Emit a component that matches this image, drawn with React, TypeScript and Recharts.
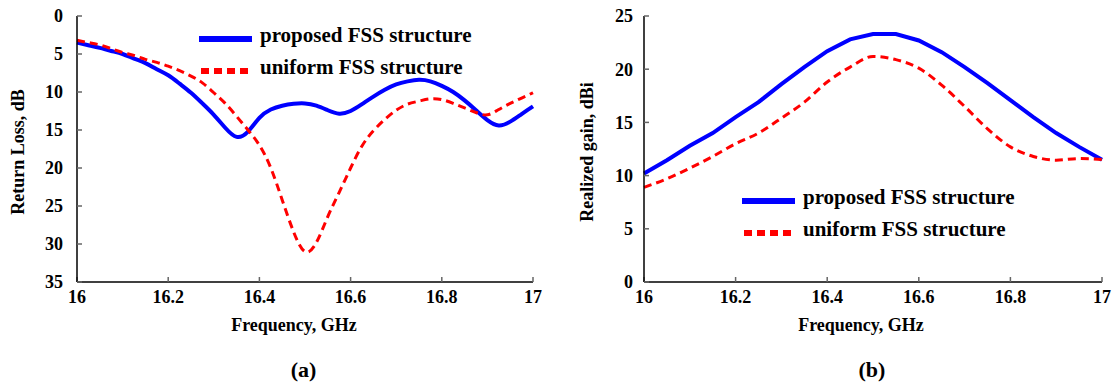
import React from "react";
import { Label, Legend, Line, LineChart, XAxis, YAxis } from "recharts";

// frequency grid, GHz
const freqRL = [
  16, 16.025, 16.05, 16.075, 16.1, 16.125, 16.15, 16.175, 16.2, 16.225, 16.25,
  16.275, 16.3, 16.325, 16.35, 16.375, 16.4, 16.425, 16.45, 16.475, 16.5,
  16.525, 16.55, 16.575, 16.6, 16.625, 16.65, 16.675, 16.7, 16.725, 16.75,
  16.775, 16.8, 16.825, 16.85, 16.875, 16.9, 16.925, 16.95, 16.975, 17,
];
// return loss, dB
const rlProposed = [
  3.5, 3.85, 4.2, 4.6, 5.0, 5.6, 6.2, 7.0, 7.8, 8.9, 10.1,
  11.5, 13.0, 14.7, 15.9, 15.2, 13.4, 12.3, 11.8, 11.55, 11.5,
  11.8, 12.4, 12.85, 12.5, 11.6, 10.6, 9.7, 9.0, 8.6, 8.4,
  8.6, 9.2, 10.0, 11.1, 12.4, 13.7, 14.4, 13.9, 12.9, 11.9,
];
const rlUniform = [
  3.2, 3.5, 3.8, 4.3, 4.8, 5.2, 5.7, 6.1, 6.6, 7.2, 7.9,
  8.8, 10.1, 11.5, 13.2, 15.0, 17.0, 20.0, 24.2, 28.4, 31.0,
  29.8, 26.4, 23.2, 20.0, 17.1, 15.1, 13.6, 12.4, 11.6, 11.2,
  10.9, 11.0, 11.5, 12.1, 12.7, 13.0, 12.3, 11.5, 10.8, 10.1,
];

const freqGain = [
  16, 16.05, 16.1, 16.15, 16.2, 16.25, 16.3, 16.35, 16.4, 16.45, 16.5,
  16.55, 16.6, 16.65, 16.7, 16.75, 16.8, 16.85, 16.9, 16.95, 17,
];
// realized gain, dBi
const gainProposed = [
  10.2, 11.45, 12.8, 14.0, 15.5, 16.9, 18.6, 20.2, 21.7, 22.8, 23.3,
  23.3, 22.7, 21.6, 20.2, 18.7, 17.1, 15.5, 14.0, 12.7, 11.5,
];
const gainUniform = [
  8.9, 9.7, 10.7, 11.8, 13.0, 14.0, 15.4, 16.9, 18.8, 20.2, 21.2,
  20.9, 20.1, 18.5, 16.5, 14.4, 12.7, 11.8, 11.45, 11.6, 11.5,
];

const freqTicks = [16, 16.2, 16.4, 16.6, 16.8, 17];
const rlTicks = [0, 5, 10, 15, 20, 25, 30, 35];
const gainTicks = [0, 5, 10, 15, 20, 25];
const seriesNames = ["proposed FSS structure", "uniform FSS structure"];

const FONT = '"Liberation Serif", "Times New Roman", serif';
const BLUE = "#0000ff";
const RED = "#ff0000";

const rlData = freqRL.map((f, i) => ({ f, proposed: rlProposed[i], uniform: rlUniform[i] }));
const gainData = freqGain.map((f, i) => ({ f, proposed: gainProposed[i], uniform: gainUniform[i] }));

const tickStyle = { fill: "#000", fontSize: 18, fontWeight: "bold", fontFamily: FONT };
const axisLine = { stroke: "#000", strokeWidth: 1.5 };
const tickLine = { stroke: "#666", strokeWidth: 1.5 };

type Curve = "monotone" | "linear" | "natural";

function LegendBox() {
  return (
    <div style={{ fontFamily: FONT, fontWeight: "bold", fontSize: 21, color: "#000" }}>
      {seriesNames.map((name, i) => (
        <div key={name} style={{ display: "flex", alignItems: "center", height: 32, whiteSpace: "nowrap" }}>
          <svg width={53} height={8} style={{ marginTop: 8, marginRight: 8 }}>
            <line
              x1={i ? 2 : 0}
              x2={i ? 49 : 53}
              y1={4}
              y2={4}
              stroke={i ? RED : BLUE}
              strokeWidth={6}
              strokeDasharray={i ? "8 5" : undefined}
            />
          </svg>
          <span>{name}</span>
        </div>
      ))}
    </div>
  );
}

interface PanelProps {
  data: { f: number; proposed: number; uniform: number }[];
  yDomain: [number, number];
  yTicks: number[];
  reversed: boolean;
  yLabel: string;
  yWidth: number;
  yTickMargin: number;
  yLabelX: number;
  marginRight: number;
  legendLeft: number;
  legendTop: number;
  xLabelDx: number;
  blueType: Curve;
  redType: Curve;
}

function Panel(p: PanelProps) {
  return (
    <LineChart
      width={560}
      height={340}
      data={p.data}
      margin={{ top: 16, right: p.marginRight, bottom: 0, left: 0 }}
    >
      <XAxis
        type="number"
        dataKey="f"
        domain={[16, 17]}
        ticks={freqTicks}
        interval={0}
        height={58}
        tickSize={-5}
        tickMargin={13}
        axisLine={axisLine}
        tickLine={tickLine}
        tick={tickStyle}
      >
        <Label
          content={({ viewBox }: any) => (
            <text
              x={viewBox.x + viewBox.width / 2 + p.xLabelDx}
              y={viewBox.y + 49}
              textAnchor="middle"
              fontFamily={FONT}
              fontWeight="bold"
              fontSize={18}
              fill="#000"
            >
              Frequency, GHz
            </text>
          )}
        />
      </XAxis>
      <XAxis
        xAxisId="top"
        orientation="top"
        type="number"
        domain={[16, 17]}
        height={0}
        tick={false}
        tickLine={false}
        axisLine={axisLine}
      />
      <YAxis
        type="number"
        domain={p.yDomain}
        ticks={p.yTicks}
        reversed={p.reversed}
        interval={0}
        width={p.yWidth}
        tickSize={-5}
        tickMargin={p.yTickMargin}
        axisLine={axisLine}
        tickLine={tickLine}
        tick={tickStyle}
      >
        <Label
          content={({ viewBox }: any) => {
            const cx = p.yLabelX;
            const cy = viewBox.y + viewBox.height / 2 + 3;
            return (
              <text
                x={cx}
                y={cy}
                dy="0.35em"
                transform={`rotate(-90, ${cx}, ${cy})`}
                textAnchor="middle"
                fontFamily={FONT}
                fontWeight="bold"
                fontSize={18}
                fill="#000"
              >
                {p.yLabel}
              </text>
            );
          }}
        />
      </YAxis>
      <YAxis
        yAxisId="right"
        orientation="right"
        type="number"
        domain={p.yDomain}
        width={0}
        tick={false}
        tickLine={false}
        axisLine={axisLine}
      />
      <Legend
        layout="horizontal"
        verticalAlign="middle"
        align="center"
        wrapperStyle={{ left: p.legendLeft, top: p.legendTop, width: "auto", height: "auto" }}
        content={() => <LegendBox />}
      />
      <Line
        dataKey="proposed"
        name={seriesNames[0]}
        type={p.blueType}
        stroke={BLUE}
        strokeWidth={4}
        dot={false}
        activeDot={false}
        isAnimationActive={false}
      />
      <Line
        dataKey="uniform"
        name={seriesNames[1]}
        type={p.redType}
        stroke={RED}
        strokeWidth={3}
        strokeDasharray="8 5"
        dot={false}
        activeDot={false}
        isAnimationActive={false}
      />
    </LineChart>
  );
}

const captionStyle: React.CSSProperties = {
  position: "absolute",
  top: 357,
  width: 60,
  textAlign: "center",
  fontFamily: FONT,
  fontWeight: "bold",
  fontSize: 22,
  lineHeight: "26px",
  color: "#000",
};

export default function App() {
  return (
    <div style={{ position: "absolute", left: 0, top: 0, width: 1115, height: 388, background: "#fff" }}>
      <div style={{ position: "absolute", left: 0, top: 0 }}>
        <Panel
          data={rlData}
          yDomain={[0, 35]}
          yTicks={rlTicks}
          reversed
          yLabel="Return Loss, dB"
          yWidth={77}
          yTickMargin={19}
          yLabelX={18}
          marginRight={27}
          legendLeft={199}
          legendTop={19}
          xLabelDx={-11}
          blueType="natural"
          redType="natural"
        />
      </div>
      <div style={{ position: "absolute", left: 555, top: 0 }}>
        <Panel
          data={gainData}
          yDomain={[0, 25]}
          yTicks={gainTicks}
          reversed={false}
          yLabel="Realized gain, dBi"
          yWidth={89}
          yTickMargin={16}
          yLabelX={32}
          marginRight={13}
          legendLeft={187}
          legendTop={181}
          xLabelDx={-12}
          blueType="linear"
          redType="monotone"
        />
      </div>
      <div style={{ ...captionStyle, left: 303.5 - 30 }}>(a)</div>
      <div style={{ ...captionStyle, left: 872 - 30 }}>(b)</div>
    </div>
  );
}
